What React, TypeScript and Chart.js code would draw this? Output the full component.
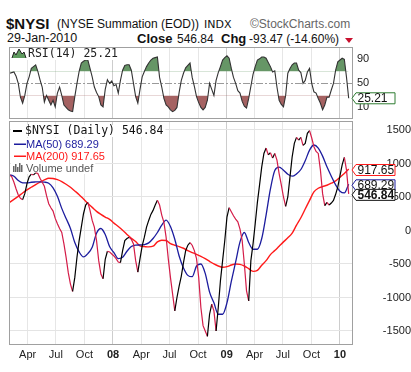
import React, { useEffect, useRef } from 'react';
import { Chart, registerables } from 'chart.js';

Chart.register(...registerables);

// ---------- data ----------
const FIRST_WEEK = '2007-02-02';

const nysiWeekly = [
  830, 800, 720, 620, 530, 480, 460, 550, 700, 800,
  840, 830, 860, 850, 780, 720, 660, 520, 400, 340,
  290, 180, 100, 30, -30, -200, -400, -630, -800, -910,
  -700, -400, -150, 50, 250, 380, 420, 300, 150, 50,
  -150, -450, -650, -720, -430, -310, -320, -350, -380, -420,
  -470, -480, -300, -150, -120, -100, -130, -200, -450, -620,
  -420, -230, -100, 50, 150, 240, 300, 380, 450, 380,
  230, 120, -100, -420, -700, -950, -1200, -1000, -830, -680,
  -480, -300, -220, -180, -220, -300, -420, -700, -1150, -1420,
  -1500, -1580, -1250, -1100, -1200, -1500, -1150, -750, -450, -150,
  200, 340, 280, 220, 170, 130, 20, -150, -500, -900,
  -1050, -450, -200, 100, 420, 680, 950, 1150, 1230, 1130,
  1160, 1080, 1150, 1050, 850, 680, 500, 360, 500, 800,
  1100, 1300, 1390, 1350, 1390, 1270, 1300, 1450, 1490, 1380,
  1250, 1180, 1150, 900, 550, 370, 420, 380, 410, 450,
  540, 650, 820, 980, 1090, 900, 546.84,
];

// every second week
const ma50Biweekly = [
  830, 810, 745, 712, 710, 720, 724, 726, 722, 705,
  636, 510, 330, 180, 30, -180, -320, -395, -345, -250,
  -40, 30, -60, -240, -330, -420, -400, -310, -240, -218,
  -216, -210, -185, -120, -30, 80, 155, 60, -130, -380,
  -560, -670, -690, -530, -500, -640, -920, -1080, -1250, -1250,
  -1080, -760, -470, -170, -30, -180, -280, -280, -120, 230,
  620, 895, 945, 900, 840, 810, 845, 910, 1040, 1200,
  1276, 1230, 1110, 950, 810, 680, 585, 560, 689.29,
];

const ma200Biweekly = [
  420, 465, 510, 560, 605, 645, 685, 722, 755, 780,
  775, 758, 730, 690, 645, 590, 535, 470, 405, 345,
  285, 240, 200, 165, 110, 60, 5, -60, -115, -165,
  -230, -240, -245, -235, -170, -145, -150, -195, -220, -240,
  -265, -300, -330, -355, -385, -420, -460, -500, -530, -548,
  -540, -515, -500, -505, -530, -570, -610, -595, -520, -450,
  -360, -300, -235, -170, -110, -40, 80, 190, 320, 450,
  575, 630, 655, 675, 705, 740, 795, 850, 917.65,
];

const rsiWeekly = [
  67, 68, 69, 62, 50, 27, 17, 30, 50, 61,
  75, 78, 81, 70, 56, 44, 19, 30, 22, 14,
  22, 11, 34, 44, 30, 14, 10, 6, 4, 3,
  28, 50, 70, 84, 87, 89, 89, 75, 61, 44,
  35, 28, 14, 11, 40, 56, 50, 54, 46, 48,
  34, 55, 72, 80, 81, 81, 72, 50, 28, 17,
  40, 61, 70, 78, 84, 89, 92, 93, 94, 60,
  44, 25, 14, 11, 6, 3, 5, 10, 35, 55,
  67, 76, 80, 84, 60, 45, 28, 18, 10, 6,
  10, 22, 50, 40, 30, 55, 68, 78, 89, 93,
  96, 92, 75, 60, 50, 38, 34, 20, 12, 9,
  25, 45, 65, 78, 89, 91, 94, 94, 92, 85,
  78, 69, 71, 44, 22, 15, 11, 30, 67, 75,
  81, 84, 84, 72, 68, 50, 55, 69, 75, 50,
  36, 34, 25, 17, 6, 14, 27, 27, 39, 50,
  72, 86, 89, 92, 90, 60, 25.21,
];

const tickDates = [
  '2007-04-01', '2007-07-01', '2007-10-01', '2008-01-01',
  '2008-04-01', '2008-07-01', '2008-10-01', '2009-01-01',
  '2009-04-01', '2009-07-01', '2009-10-01', '2010-01-01',
];
const tickLabels = ['Apr', 'Jul', 'Oct', '08', 'Apr', 'Jul', 'Oct', '09', 'Apr', 'Jul', 'Oct', '10'];
const priceTicks = [-1500, -1000, -500, 0, 500, 1000, 1500];
const rsiTicks = [10, 30, 50, 70, 90];

// ---------- helpers ----------
const T0 = Date.UTC(2007, 0, 1);
const dayNum = (s: string) => (Date.parse(s) - T0) / 864e5;
const firstDay = dayNum(FIRST_WEEK);
const weekDay = (i: number) => firstDay + 7 * i;
const tickDays = tickDates.map(dayNum);
const X_MIN = 30.1;
const X_MAX = 1137.9;

const SANS = '"Liberation Sans", Arial, sans-serif';
const MONO = '"DejaVu Sans Mono", "Liberation Mono", monospace';
const UP = '#000000';
const DOWN = '#d41c48';
const BLUE = '#1c1c9e';
const RED = '#ff1a1a';

const nysiPts = nysiWeekly.map((v, i) => ({ x: weekDay(i), y: v }));
const ma50Pts = ma50Biweekly.map((v, i) => ({ x: weekDay(2 * i), y: v }));
const ma200Pts = ma200Biweekly.map((v, i) => ({ x: weekDay(2 * i), y: v }));
const rsiPts = rsiWeekly.map((v, i) => ({ x: weekDay(i), y: v }));

const last = (a: number[]) => a[a.length - 1];
const isYear = (i: number) => /^\d/.test(tickLabels[i] || '');

function xScale(showLabels: boolean) {
  return {
    type: 'linear',
    min: X_MIN,
    max: X_MAX,
    afterBuildTicks: (s: any) => {
      s.ticks = tickDays.map((v) => ({ value: v }));
    },
    afterFit: (s: any) => {
      s.height = showLabels ? 27 : 0;
      s.paddingLeft = 0;
      s.paddingRight = 0;
    },
    ticks: {
      display: showLabels,
      autoSkip: false,
      maxRotation: 0,
      padding: 3,
      color: '#222',
      callback: (_v: any, i: number) => tickLabels[i],
      font: (ctx: any) => ({ family: SANS, size: 11, weight: isYear(ctx.index) ? 'bold' : 'normal' }),
    },
    grid: {
      drawTicks: false,
      color: (ctx: any) => (isYear(ctx.index) ? '#cdcdcd' : '#e6e6e6'),
    },
    border: { display: false },
  };
}

function drawPointerBox(ctx: CanvasRenderingContext2D, y: number, text: string, border: string, bold: boolean) {
  const tip = 352;
  const x1 = 356;
  const x2 = 395;
  const h = 11;
  ctx.beginPath();
  ctx.moveTo(tip, y);
  ctx.lineTo(x1, y - h / 2);
  ctx.lineTo(x2, y - h / 2);
  ctx.lineTo(x2, y + h / 2);
  ctx.lineTo(x1, y + h / 2);
  ctx.closePath();
  ctx.fillStyle = '#fff';
  ctx.fill();
  ctx.strokeStyle = border;
  ctx.lineWidth = 1;
  ctx.stroke();
  ctx.fillStyle = '#111';
  ctx.font = `${bold ? 'bold ' : ''}12px ${SANS}`;
  ctx.textBaseline = 'middle';
  ctx.textAlign = 'left';
  ctx.fillText(text, x1 + 1.5, y + 0.5);
}

const rsiOverlay = {
  id: 'rsiOverlay',
  beforeDatasetsDraw(chart: any) {
    const { ctx, chartArea: a, scales } = chart;
    const y50 = Math.round(scales.y.getPixelForValue(50)) + 0.5;
    ctx.save();
    ctx.strokeStyle = '#9a9a9a';
    ctx.lineWidth = 1;
    ctx.setLineDash([7, 2, 2, 2]);
    ctx.beginPath();
    ctx.moveTo(a.left, y50);
    ctx.lineTo(a.right, y50);
    ctx.stroke();
    ctx.restore();
  },
  afterDraw(chart: any) {
    const { ctx, chartArea: a, scales } = chart;
    ctx.save();
    const label = `RSI(14) ${last(rsiWeekly).toFixed(2)}`;
    ctx.font = `11.5px ${MONO}`;
    const w = ctx.measureText(label).width;
    ctx.fillStyle = '#fff';
    ctx.fillRect(11, 1, w + 19, 12);
    const icon = () => {
      ctx.beginPath();
      ctx.moveTo(12, 11);
      ctx.lineTo(14, 5);
      ctx.lineTo(16, 8);
      ctx.lineTo(19, 2);
      ctx.lineTo(22, 7);
      ctx.lineTo(24, 5);
      ctx.lineTo(26, 11);
    };
    icon();
    ctx.closePath();
    ctx.fillStyle = '#5e9a5e';
    ctx.fill();
    icon();
    ctx.strokeStyle = '#222';
    ctx.lineWidth = 1;
    ctx.stroke();
    ctx.fillStyle = '#222';
    ctx.textBaseline = 'middle';
    ctx.fillText(label, 28, 7.5);
    ctx.strokeStyle = '#a0a0a0';
    ctx.strokeRect(a.left + 0.5, a.top + 0.5, a.width - 1, a.height - 1);
    const y = scales.y.getPixelForValue(last(rsiWeekly));
    drawPointerBox(ctx, y, last(rsiWeekly).toFixed(2), '#2e7d32', false);
    ctx.restore();
  },
};

const mainOverlay = {
  id: 'mainOverlay',
  beforeDatasetsDraw(chart: any) {
    const { ctx } = chart;
    ctx.save();
    ctx.textBaseline = 'middle';
    ctx.textAlign = 'left';
    const items = [
      { text: `$NYSI (Daily) ${last(nysiWeekly).toFixed(2)}`, font: `11.5px ${MONO}`, color: '#111', y: 10 },
      { text: `MA(50) ${last(ma50Biweekly).toFixed(2)}`, font: `11px ${SANS}`, color: BLUE, y: 23 },
      { text: `MA(200) ${last(ma200Biweekly).toFixed(2)}`, font: `11px ${SANS}`, color: RED, y: 35 },
      { text: 'Volume undef', font: `11px ${SANS}`, color: '#555', y: 47 },
    ];
    items.forEach((it, i) => {
      ctx.font = it.font;
      const tx = i === 0 ? 25 : 26;
      const w = ctx.measureText(it.text).width;
      ctx.fillStyle = '#fff';
      ctx.fillRect(11, it.y - 6, tx - 11 + w + 2, 12);
      if (i === 0) {
        ctx.fillStyle = '#000';
        ctx.fillRect(13, it.y - 1, 9, 2);
      } else if (i < 3) {
        ctx.fillStyle = it.color;
        ctx.fillRect(14, it.y - 0.5, 12, 1.5);
      } else {
        ctx.fillStyle = '#666';
        const hs = [6, 8, 5, 9, 7];
        hs.forEach((h, j) => ctx.fillRect(13 + j * 2, it.y + 4 - h, 1.5, h));
      }
      ctx.fillStyle = it.color;
      ctx.fillText(it.text, tx, it.y + 0.5);
    });
    ctx.restore();
  },
  afterDraw(chart: any) {
    const { ctx, chartArea: a, scales } = chart;
    ctx.save();
    ctx.strokeStyle = '#a0a0a0';
    ctx.lineWidth = 1;
    ctx.strokeRect(a.left + 0.5, a.top + 0.5, a.width - 1, a.height - 1);
    const y = (v: number) => scales.y.getPixelForValue(v) + 1;
    drawPointerBox(ctx, y(last(ma200Biweekly)), last(ma200Biweekly).toFixed(2), RED, false);
    drawPointerBox(ctx, y(last(ma50Biweekly)), last(ma50Biweekly).toFixed(2), BLUE, false);
    drawPointerBox(ctx, y(last(nysiWeekly)), last(nysiWeekly).toFixed(2), '#111', true);
    ctx.restore();
  },
};

export default function App() {
  const rsiRef = useRef<HTMLCanvasElement>(null);
  const mainRef = useRef<HTMLCanvasElement>(null);

  useEffect(() => {
    const rsiChart = new Chart(rsiRef.current as HTMLCanvasElement, {
      type: 'line',
      data: {
        datasets: [
          {
            data: rsiPts,
            borderColor: '#333',
            borderWidth: 1.1,
            pointRadius: 0,
            tension: 0,
            fill: { target: { value: 70 }, above: 'rgb(102,150,102)', below: 'rgba(0,0,0,0)' },
          },
          {
            data: rsiPts,
            borderColor: 'rgba(0,0,0,0)',
            borderWidth: 1,
            pointRadius: 0,
            tension: 0,
            fill: { target: { value: 30 }, above: 'rgba(0,0,0,0)', below: 'rgb(165,98,98)' },
          },
        ],
      } as any,
      options: {
        animation: false,
        responsive: false,
        maintainAspectRatio: false,
        layout: { padding: { left: 9, right: 0, top: 0, bottom: 0 } },
        plugins: { legend: { display: false }, tooltip: { enabled: false } },
        scales: {
          x: xScale(false) as any,
          y: {
            position: 'right',
            min: -9.3,
            max: 110.7,
            afterBuildTicks: (s: any) => {
              s.ticks = rsiTicks.map((v) => ({ value: v }));
            },
            afterFit: (s: any) => {
              s.width = 58;
              s.paddingTop = 0;
              s.paddingBottom = 0;
            },
            ticks: {
              padding: 4,
              crossAlign: 'near',
              color: '#222',
              font: { family: SANS, size: 11 },
              callback: (v: any) => (v === 30 ? '' : String(v)),
            },
            grid: {
              drawTicks: false,
              color: (ctx: any) => {
                const v = ctx.tick && ctx.tick.value;
                return v === 30 || v === 70 ? '#8c8c8c' : 'rgba(0,0,0,0)';
              },
            },
            border: { display: false },
          } as any,
        },
      },
      plugins: [rsiOverlay],
    });

    const mainChart = new Chart(mainRef.current as HTMLCanvasElement, {
      type: 'line',
      data: {
        datasets: [
          {
            data: nysiPts,
            borderColor: UP,
            borderWidth: 1.2,
            pointRadius: 0,
            tension: 0,
            segment: {
              borderColor: (c: any) => (c.p1.parsed.y < c.p0.parsed.y ? DOWN : UP),
            },
          },
          {
            data: ma50Pts,
            borderColor: BLUE,
            borderWidth: 1.3,
            pointRadius: 0,
            cubicInterpolationMode: 'monotone',
          },
          {
            data: ma200Pts,
            borderColor: RED,
            borderWidth: 1.4,
            pointRadius: 0,
            cubicInterpolationMode: 'monotone',
          },
        ],
      } as any,
      options: {
        animation: false,
        responsive: false,
        maintainAspectRatio: false,
        layout: { padding: { left: 9, right: 0, top: 0, bottom: 0 } },
        plugins: { legend: { display: false }, tooltip: { enabled: false } },
        scales: {
          x: xScale(true) as any,
          y: {
            position: 'right',
            min: -1709,
            max: 1634,
            afterBuildTicks: (s: any) => {
              s.ticks = priceTicks.map((v) => ({ value: v }));
            },
            afterFit: (s: any) => {
              s.width = 58;
              s.paddingTop = 0;
              s.paddingBottom = 0;
            },
            ticks: {
              padding: 6,
              crossAlign: 'far',
              color: '#222',
              font: { family: SANS, size: 11 },
              callback: (v: any) => String(v),
            },
            grid: { drawTicks: false, color: '#e4e4e4' },
            border: { display: false },
          } as any,
        },
      },
      plugins: [mainOverlay],
    });

    return () => {
      rsiChart.destroy();
      mainChart.destroy();
    };
  }, []);

  const abs = (left: number, top: number, size: number, extra: any = {}) => ({
    position: 'absolute' as const,
    left,
    top,
    fontSize: size,
    lineHeight: 1,
    whiteSpace: 'nowrap' as const,
    fontFamily: SANS,
    color: '#111',
    ...extra,
  });

  return (
    <div style={{ position: 'absolute', left: 0, top: 0, width: 411, height: 372, background: '#fff', overflow: 'hidden' }}>
      <div style={abs(6, 15.8, 15, { fontWeight: 'bold' })}>$NYSI</div>
      <div style={abs(57, 18.3, 12)}>(NYSE Summation (EOD))</div>
      <div style={abs(204, 19.2, 11, { fontFamily: '"DejaVu Sans", Verdana, sans-serif' })}>INDX</div>
      <div style={abs(250, 18.3, 12, { color: '#666' })}>©StockCharts.com</div>
      <div style={abs(7, 32.4, 12.5)}>29-Jan-2010</div>
      <div style={abs(137, 32, 13, { fontWeight: 'bold' })}>Close</div>
      <div style={abs(177, 32.8, 12)}>546.84</div>
      <div style={abs(221, 32, 13, { fontWeight: 'bold' })}>Chg</div>
      <div style={abs(249, 32.8, 12)}>-93.47 (-14.60%)</div>
      <div
        style={{
          position: 'absolute',
          left: 345,
          top: 38,
          width: 0,
          height: 0,
          borderLeft: '4px solid transparent',
          borderRight: '4px solid transparent',
          borderTop: '5px solid #c8102e',
        }}
      />
      <canvas ref={rsiRef} width={411} height={72} style={{ position: 'absolute', left: 0, top: 47 }} />
      <canvas ref={mainRef} width={411} height={251} style={{ position: 'absolute', left: 0, top: 121 }} />
    </div>
  );
}
